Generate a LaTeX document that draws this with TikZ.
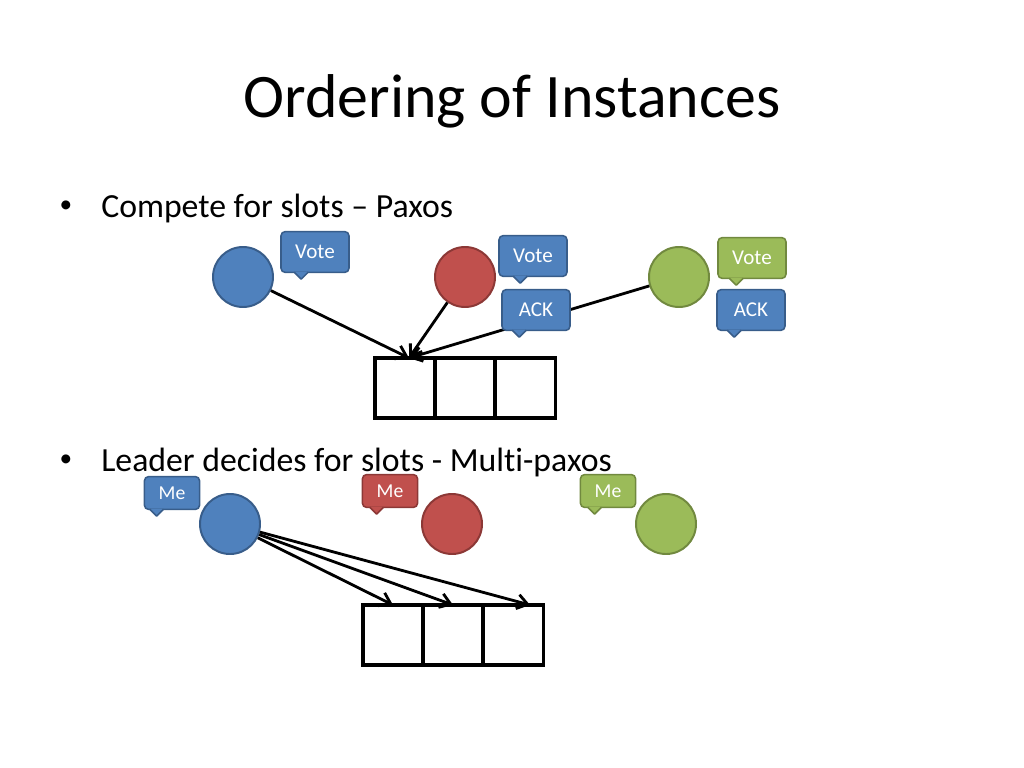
\documentclass[tikz,border=0pt]{standalone}
\usepackage{fontspec}
\setmainfont{Carlito}[Ligatures=CommonOff]
\usetikzlibrary{arrows.meta, positioning, calc}
\definecolor{blfill}{RGB}{79,129,189}
\definecolor{blline}{RGB}{56,93,138}
\definecolor{rdfill}{RGB}{192,80,77}
\definecolor{rdline}{RGB}{140,56,54}
\definecolor{grfill}{RGB}{155,187,89}
\definecolor{grline}{RGB}{113,137,63}
\tikzset{
    proc/.style={circle, draw=#1line, fill=#1fill, line width=1.4pt, minimum size=1.5cm, inner sep=0pt},
    bubble/.style={draw=#1line, fill=#1fill, line width=1.1pt, rounded corners=3pt, text=white,
                   font=\fontsize{15}{17}\selectfont, minimum width=1.7cm, minimum height=1.02cm, inner sep=2pt},
    mebubble/.style={bubble=#1, font=\fontsize{14}{16}\selectfont, minimum width=1.38cm, minimum height=0.82cm},
    tail/.style={draw=#1line, fill=#1fill, line width=1.1pt, line join=round},
    slot/.style={draw, line width=2.2pt, minimum size=1.5cm, outer sep=0pt, inner sep=0pt},
    arrow/.style={-{Straight Barb[length=2.6mm, width=3.6mm]}, line width=2pt},
    item/.style={anchor=base west, inner sep=0pt, font=\fontsize{24}{28}\selectfont},
    dot/.style={anchor=base, inner sep=0pt, font=\fontsize{18}{20}\selectfont},
}

\begin{document}
\begin{tikzpicture}[x=0.025cm, y=-0.025cm]
    \useasboundingbox (0,0) rectangle (1024,768);
    \node[anchor=base, inner sep=0pt, font=\fontsize{44}{50}\selectfont] (ttl) at (512,118) {Ordering of Instances};
    % first bullet: paxos
    \node[dot] (dot1) at (66,212) {\textbullet};
    \node[item] (item1) at (101,217) {Compete for slots – Paxos};
    \node[proc=bl] (pa) at (243,277) {};
    \node[proc=rd] (pb) at (465,277) {};
    \node[proc=gr] (pc) at (679,277) {};
    \node[slot] (sa1) at (405,388) {};
    \node[slot, right=0pt of sa1] (sa2) {};
    \node[slot, right=0pt of sa2] (sa3) {};
    \coordinate (hit) at ($(sa1.north)+(4,0)$);
    \foreach \p in {pa,pb,pc} { \draw[arrow] (\p) -- (hit); }
    \node[bubble=bl] (vA) at (315,252) {Vote};
    \node[bubble=bl] (vB) at (533,256) {Vote};
    \node[bubble=bl] (aB) at (536,310) {ACK};
    \node[bubble=gr] (vC) at (752,258) {Vote};
    \node[bubble=bl] (aC) at (751,310) {ACK};
    % second bullet: multi-paxos
    \node[dot] (dot2) at (66,466) {\textbullet};
    \node[item] (item2) at (101,471) {Leader decides for slots - Multi-paxos};
    \node[proc=bl] (la) at (230,524) {};
    \node[proc=rd] (lb) at (452,524) {};
    \node[proc=gr] (lc) at (666,524) {};
    \node[slot] (sb1) at (393,635) {};
    \node[slot, right=0pt of sb1] (sb2) {};
    \node[slot, right=0pt of sb2] (sb3) {};
    \coordinate (hb3) at ($(sb3.north)+(17,0)$);
    \foreach \t in {sb1.north,sb2.north,hb3} { \draw[arrow] (la) -- (\t); }
    \node[mebubble=bl] (meA) at (172,493) {Me};
    \node[mebubble=rd] (meB) at (390,491) {Me};
    \node[mebubble=gr] (meC) at (608,491) {Me};
    % tails of the callouts
    \foreach \n/\col/\off in {vA/bl/14, vB/bl/15, aB/bl/11, vC/gr/12, aC/bl/11, meA/bl/6, meB/rd/8, meC/gr/8}
        { \draw[tail=\col] ($(\n.south west)+(\off,-1)$) -- ++(7,7) -- ++(7,-7); }
\end{tikzpicture}
\end{document}
